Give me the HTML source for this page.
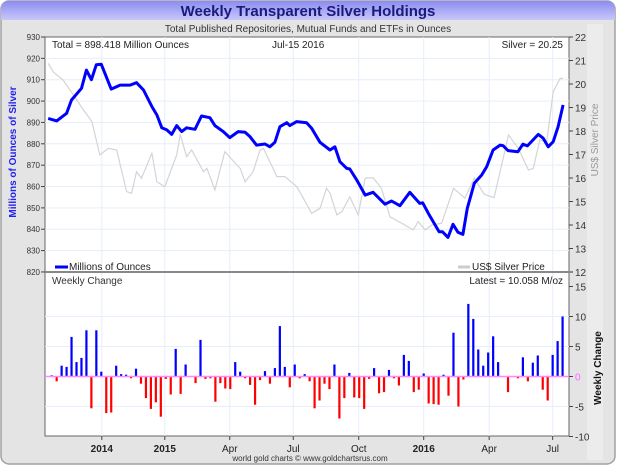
<!DOCTYPE html>
<html><head><meta charset="utf-8">
<style>
body{margin:0;width:620px;height:469px;overflow:hidden;background:#fff;font-family:"Liberation Sans",sans-serif;}
svg{display:block}
</style></head>
<body>
<svg id="chart" width="620" height="469" viewBox="0 0 620 469">
  <defs>
    <linearGradient id="tg" x1="0" y1="0" x2="0" y2="1">
      <stop offset="0" stop-color="#8c8cf0"/><stop offset="1" stop-color="#c8c8fa"/>
    </linearGradient>
  </defs>
  <rect x="0" y="0" width="620" height="469" fill="#ffffff"/>
  <rect x="1" y="1" width="614" height="463" rx="8" fill="#e4e4e4" stroke="#a0a0a0" stroke-width="1.5"/>
  <rect x="587" y="24" width="16" height="436" fill="#ececec"/>
  <path d="M1,20 L1,9 Q1,1 9,1 L607,1 Q615,1 615,9 L615,20 Z" fill="url(#tg)"/>
  <text x="308" y="16" text-anchor="middle" font-size="15" font-weight="bold" fill="#1a1a7a">Weekly Transparent Silver Holdings</text>
  <text x="308" y="32" text-anchor="middle" font-size="10" fill="#333">Total Published Repositories, Mutual Funds and ETFs in Ounces</text>
  <rect x="45" y="37" width="524" height="399" fill="#ffffff" stroke="#666" stroke-width="1"/>
  <g id="grid"></g>
  <g id="marks"></g>
  <g id="axes"></g>
  <line x1="45" y1="272" x2="573" y2="272" stroke="#888" stroke-width="2"/>
  <text x="52" y="48" font-size="10" fill="#222">Total = 898.418 Million Ounces</text>
  <text x="272" y="48" font-size="10" fill="#222">Jul-15  2016</text>
  <text x="563" y="48" text-anchor="end" font-size="10" fill="#222">Silver = 20.25</text>
  <text x="52" y="284" font-size="10" fill="#333">Weekly Change</text>
  <text x="563" y="284" text-anchor="end" font-size="10" fill="#222">Latest = 10.058 M/oz</text>
  <g>
    <line x1="55" y1="267" x2="68" y2="267" stroke="#0000ff" stroke-width="3"/>
    <text x="69" y="270" font-size="10" fill="#222">Millions of Ounces</text>
  </g>
  <g>
    <line x1="458" y1="267" x2="470" y2="267" stroke="#cccccc" stroke-width="3"/>
    <text x="472" y="270" font-size="10" fill="#222">US$ Silver Price</text>
  </g>
  <text transform="translate(16,152) rotate(-90)" text-anchor="middle" font-size="10" font-weight="bold" fill="#2222ee">Millions of Ounces of Silver</text>
  <text transform="translate(598,140) rotate(-90)" text-anchor="middle" font-size="10" fill="#999">US$ Silver Price</text>
  <text transform="translate(601,368) rotate(-90)" text-anchor="middle" font-size="10" font-weight="bold" fill="#111">Weekly Change</text>
  <text x="310" y="461" text-anchor="middle" font-size="8" fill="#333">world gold charts © www.goldchartsrus.com</text>
</svg>
<script>
const weeklyChange = [0.2,-0.8,1.8,1.6,6.6,2.4,3.1,7.7,-5.3,7.7,0.8,-6.1,-6.0,1.8,0.4,0.3,-0.3,1.3,-1.2,-3.6,-5.4,-4.3,-6.7,-0.4,-3.0,4.6,-2.9,2.0,0,-1.1,6.1,-0.4,-0.3,-4.2,-1.1,-2.0,-2.1,2.4,0.8,-0.3,-1.4,-4.7,-0.6,0.9,-1.2,1.4,8.4,1.6,-1.8,2.0,-0.3,0.4,-0.8,-5.3,-4.0,-1.2,-2.1,2.0,-7.0,-3.6,0.6,-3.5,-3.6,-5.4,-0.4,1.4,-2.8,-2.6,1.1,-0.3,-1.5,3.6,2.6,-2.6,-2.2,0.5,-4.5,-4.6,-4.7,0.3,-3.2,7.3,-5.0,-0.5,12.1,9.6,4.5,1.8,4.0,6.7,2.4,0,-2.6,0,-0.3,3.2,-0.8,2.3,3.5,-2.2,-4.0,3.6,5.9,10.0];
const holdWeeks = [-0.7,1,3,4,6,7,8,9,10,12,13.8,15.8,17.1,18.5,20.2,21.2,22.2,23.2,24.2,25.2,26.2,27.2,28.9,30.2,31.9,32.9,34.6,35.9,37.6,39,40,41.3,43,44,45,46,47.4,48,49.4,51.4,52.4,54.1,56.1,57.1,58.1,59.5,60.1,61.5,63.2,64.8,67.2,68.5,70.2,72.2,74.2,74.8,76.1,78.1,78.8,79.9,80.9,81.9,82.9,83.8,85.2,86.7,87.7,89,90.4,91,92,94,95,95.9,98.1,99.1,100.1,101.1,102.1,103.1];
const holdValues = [891.9,890.7,894.3,900.5,906,914.5,910,917,917.2,905.6,907.5,907.5,908.6,905.2,897.4,893.5,887.5,886.5,884.4,888.5,885.7,887.5,886.8,893,892.2,888.5,885.7,882.9,885.7,885.4,883.3,879.4,879.9,878.6,880.7,888,889.9,888.5,890.4,889.9,887.3,880.7,877.1,878.6,871.6,868.5,868.2,863.1,856,857.3,851.7,853.2,851,857.3,852.1,852.4,846.7,838.8,838.8,836.2,842.3,838.6,837.6,849.8,861.5,865.4,869.3,877.1,879.4,879.1,876.8,876.3,879.8,879,884.4,882.6,878.6,881,888,898.2];
const silverWeeks = [-0.7,0.3,2.3,4.4,6.4,8.1,9.7,11.4,13.1,15.1,16.1,17.1,18.1,20.2,21.2,22.8,25.2,25.9,27.2,28.2,30.6,31.3,32.9,34.9,38,39,40.6,42,42.7,45.4,47,49.4,51.1,52.4,54.1,55.4,56.1,57.5,58.5,60.1,61.8,63.2,64.8,66.5,68.2,70.6,72.9,73.9,75.3,76.6,78.6,81,83.3,85.2,87.2,89.2,92.1,94.1,96.1,97.1,98.4,99.8,101.1,102.5,103.1];
const silverPrices = [20.88,20.52,20.17,19.53,18.9,18.4,16.98,17.26,17.19,15.42,15.35,16.27,15.99,17.05,15.84,15.63,16.98,17.86,16.91,17.19,16.27,16.41,15.49,17.12,16.41,15.84,16.27,17.19,17.26,16.06,16.06,15.63,15.0,14.5,14.71,15.56,15.35,14.43,14.57,15.2,14.43,15.99,16.01,15.56,14.35,14.07,13.79,14.14,13.79,14.0,14.07,15.56,15.14,15.99,15.31,15.16,17.83,17.26,16.34,16.41,17.62,17.54,19.67,20.24,20.24];
const xTickLabels = ["2014","2015","Apr","Jul","Oct","2016","Apr","Jul"];
const xTickWeeks = [10.1,22.8,35.9,48.7,61.9,75,88.2,101];
const xTickBold = [true,true,false,false,false,true,false,false];
const leftTicks = [930,920,910,900,890,880,870,860,850,840,830,820];
const rightTicks = [22,21,20,19,18,17,16,15,14,13,12];
const changeTicks = [15,10,5,0,-5,-10];

const NS = "http://www.w3.org/2000/svg";
const xS = w => 51.7 + w * 4.96;
const yHold = v => 37 + (930 - v) * 2.136;
const ySilver = v => 37 + (22 - v) * 23.5;
const yChg = v => 376.5 - v * 6;

function mk(tag, attrs, parent) {
  const e = document.createElementNS(NS, tag);
  for (const k in attrs) e.setAttribute(k, attrs[k]);
  parent.appendChild(e);
  return e;
}
const grid = document.getElementById('grid');
const marks = document.getElementById('marks');
const axes = document.getElementById('axes');

xTickWeeks.forEach((w, i) => {
  const x = xS(w);
  const gl = mk('line', {x1:x, y1:37, x2:x, y2:436, stroke:'#e6eefc', 'stroke-width':1}, grid);
  
  
  mk('line', {x1:x, y1:436, x2:x, y2:440, stroke:'#444'}, axes);
  const t = mk('text', {x:x, y:452, 'text-anchor':'middle', 'font-size':10, fill:'#222', 'font-weight': xTickBold[i] ? 'bold' : 'normal'}, axes);
  t.textContent = xTickLabels[i];
  
  
});
leftTicks.forEach(v => {
  const y = yHold(v);
  if (v > 820 && v < 930) {
    const gl = mk('line', {x1:45, y1:y, x2:569, y2:y, stroke:'#e6eefc'}, grid);
    
    
  }
  mk('line', {x1:41, y1:y, x2:45, y2:y, stroke:'#444'}, axes);
  const t = mk('text', {x:40, y:y+3, 'text-anchor':'end', 'font-size':8, fill:'#333'}, axes);
  t.textContent = v;
  
  
});
rightTicks.forEach(v => {
  const y = ySilver(v);
  mk('line', {x1:569, y1:y, x2:573, y2:y, stroke:'#444'}, axes);
  const t = mk('text', {x:575, y:y+4, 'font-size':10, fill:'#333'}, axes);
  t.textContent = v;
  
  
});
changeTicks.forEach(v => {
  const y = yChg(v);
  if (v !== 0 && v > -10 && v < 15) {
    const gl = mk('line', {x1:45, y1:y, x2:569, y2:y, stroke:'#e6eefc'}, grid);
    
    
  }
  mk('line', {x1:569, y1:y, x2:573, y2:y, stroke:'#444'}, axes);
  const t = mk('text', {x:575, y:y+4, 'font-size':10, fill: v === 0 ? '#ff66ff' : '#333'}, axes);
  t.textContent = v;
  
  
});

// silver price line
const sp = mk('polyline', {points: silverWeeks.map((w, i) => xS(w).toFixed(1) + ',' + ySilver(silverPrices[i]).toFixed(1)).join(' '), fill:'none', stroke:'#d4d4d4', 'stroke-width':1.2}, marks);


// holdings line
const hl = mk('polyline', {points: holdWeeks.map((w, i) => xS(w).toFixed(1) + ',' + yHold(holdValues[i]).toFixed(1)).join(' '), fill:'none', stroke:'#0000ff', 'stroke-width':3, 'stroke-linejoin':'round'}, marks);


// weekly change bars
weeklyChange.forEach((v, i) => {
  if (v === 0) return;
  const x = xS(i);
  const y0 = yChg(0), y1 = yChg(v);
  const r = mk('rect', {x:x-1.1, y:Math.min(y0, y1), width:2.2, height:Math.abs(y1 - y0), fill: v > 0 ? '#0000ff' : '#ff0000'}, marks);
  
  
});
const zl = mk('line', {x1:45, y1:yChg(0), x2:569, y2:yChg(0), stroke:'#ff88ff', 'stroke-width':1.5}, marks);


</script>
</body></html>
